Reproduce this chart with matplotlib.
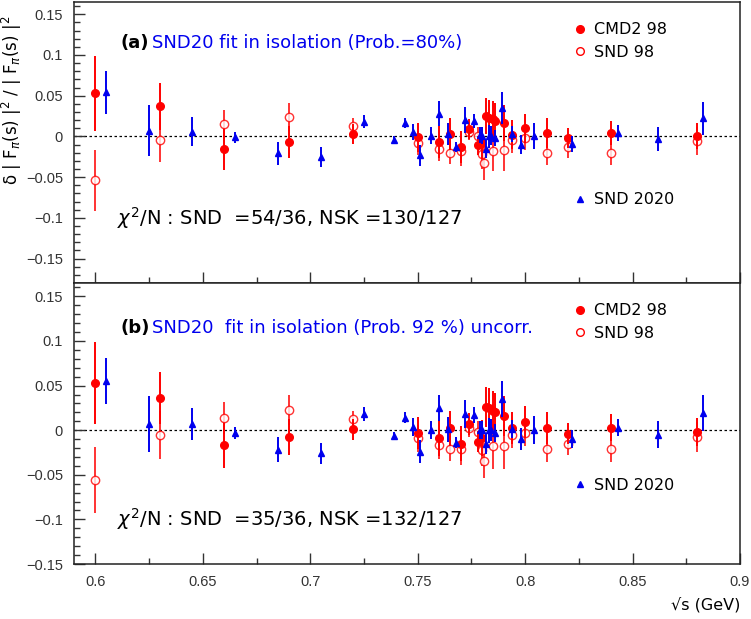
import numpy as np
import matplotlib
matplotlib.use("Agg")
import matplotlib.pyplot as plt
from matplotlib.lines import Line2D
from matplotlib.ticker import MultipleLocator

plt.rcParams["font.family"] = ["DejaVu Sans"]
plt.rcParams["mathtext.fontset"] = "dejavusans"

# CMD2 98 (filled red)
cmd_x = [0.6, 0.63, 0.66, 0.69, 0.72, 0.75, 0.76, 0.765, 0.77, 0.774, 0.778, 0.780,
         0.7817, 0.783, 0.785, 0.786, 0.79, 0.794, 0.80, 0.81, 0.82, 0.84, 0.88]
cmd_err = [0.046, 0.029, 0.025, 0.02, 0.012, 0.018, 0.02, 0.02, 0.02, 0.012, 0.012, 0.02,
           0.022, 0.022, 0.022, 0.022, 0.022, 0.018, 0.018, 0.018, 0.012, 0.015, 0.016]
cmd_a = [0.053, 0.037, -0.016, -0.007, 0.003, -0.001, -0.007, 0.003, -0.013, 0.009, -0.011, -0.008,
         0.025, 0.023, 0.021, 0.019, 0.016, 0.002, 0.010, 0.004, -0.002, 0.004, 0.001]
cmd_b = [0.053, 0.036, -0.017, -0.008, 0.001, -0.003, -0.009, 0.002, -0.015, 0.007, -0.013, -0.009,
         0.026, 0.025, 0.022, 0.020, 0.016, 0.002, 0.009, 0.002, -0.004, 0.003, -0.002]

# SND 98 (open red)
snd98_x = [0.6, 0.63, 0.66, 0.69, 0.72, 0.75, 0.76, 0.765, 0.77, 0.774, 0.778, 0.78,
           0.781, 0.785, 0.79, 0.794, 0.80, 0.81, 0.82, 0.84, 0.88]
snd98_err = [0.037, 0.027, 0.018, 0.017, 0.01, 0.015, 0.015, 0.014, 0.018, 0.01, 0.012, 0.018,
             0.02, 0.025, 0.025, 0.015, 0.015, 0.015, 0.013, 0.015, 0.017]
snd98_a = [-0.054, -0.004, 0.015, 0.024, 0.013, -0.008, -0.015, -0.020, -0.018, 0.005, 0.0, -0.022,
           -0.033, -0.018, -0.017, -0.005, -0.002, -0.020, -0.013, -0.020, -0.006]
snd98_b = [-0.056, -0.005, 0.014, 0.023, 0.012, -0.009, -0.017, -0.021, -0.021, 0.002, -0.002, -0.022,
           -0.034, -0.018, -0.018, -0.005, -0.003, -0.021, -0.015, -0.021, -0.008]

# SND 2020 (blue triangles)
snd20_x = [0.605, 0.625, 0.645, 0.665, 0.685, 0.705, 0.725, 0.739, 0.744, 0.748, 0.751, 0.756,
           0.760, 0.764, 0.768, 0.772, 0.776, 0.779, 0.780, 0.782, 0.783, 0.784, 0.786, 0.789,
           0.794, 0.798, 0.804, 0.822, 0.843, 0.862, 0.883]
snd20_err = [0.026, 0.031, 0.018, 0.007, 0.014, 0.012, 0.008, 0.004, 0.006, 0.01, 0.013, 0.01,
             0.015, 0.014, 0.006, 0.016, 0.009, 0.01, 0.01, 0.012, 0.014, 0.012, 0.01, 0.02,
             0.01, 0.012, 0.016, 0.01, 0.01, 0.015, 0.02]
snd20_a = [0.054, 0.007, 0.006, -0.001, -0.021, -0.025, 0.018, -0.004, 0.016, 0.005, -0.023, 0.001,
           0.028, 0.003, -0.013, 0.020, 0.019, 0.002, 0.001, -0.015, 0.0, 0.001, -0.002, 0.035,
           0.003, -0.010, 0.001, -0.009, 0.004, -0.003, 0.022]
snd20_b = [0.055, 0.007, 0.007, -0.003, -0.022, -0.026, 0.018, -0.006, 0.014, 0.004, -0.024, 0.0,
           0.025, 0.001, -0.014, 0.018, 0.017, 0.0, 0.0, -0.015, 0.0, 0.0, -0.003, 0.035,
           0.001, -0.010, 0.0, -0.010, 0.003, -0.005, 0.019]

panels = [
    dict(tag="(a)", title="SND20 fit in isolation (Prob.=80%)",
         chi=r"$\chi^2$/N : SND  =54/36, NSK =130/127",
         cmd=cmd_a, snd98=snd98_a, snd20=snd20_a, ylim=(-0.18, 0.165)),
    dict(tag="(b)", title="SND20  fit in isolation (Prob. 92 %) uncorr.",
         chi=r"$\chi^2$/N : SND  =35/36, NSK =132/127",
         cmd=cmd_b, snd98=snd98_b, snd20=snd20_b, ylim=(-0.15, 0.165)),
]

W, H = 751, 619
fig = plt.figure(figsize=(W / 100, H / 100), dpi=100)
left, right = 74, 740
tops = [2, 283]
hgt = 281

red = "#ff0000"
blue = "#0000ee"

for i, p in enumerate(panels):
    ax = fig.add_axes([left / W, 1 - (tops[i] + hgt) / H, (right - left) / W, hgt / H])
    ax.set_xlim(0.59, 0.9)
    ax.set_ylim(*p["ylim"])
    ax.axhline(0, color="black", lw=0.9, ls=(0, (2, 2)), zorder=1)

    ax.errorbar(cmd_x, p["cmd"], yerr=cmd_err, fmt="o", color=red, ms=5.5,
                elinewidth=1.4, capsize=0, zorder=3)
    ax.errorbar(snd98_x, p["snd98"], yerr=snd98_err, fmt="o", color=red, mfc="white",
                mec=red, ms=6, mew=1.0, elinewidth=1.4, capsize=0, alpha=0.8, zorder=2)
    ax.errorbar(snd20_x, p["snd20"], yerr=snd20_err, fmt="^", color=blue, ms=5,
                elinewidth=1.4, capsize=0, zorder=4)

    ax.xaxis.set_major_locator(MultipleLocator(0.05))
    ax.xaxis.set_minor_locator(MultipleLocator(0.025))
    ax.yaxis.set_major_locator(MultipleLocator(0.05))
    ax.yaxis.set_minor_locator(MultipleLocator(0.01))
    ax.tick_params(which="both", direction="in", top=False, right=False, labelsize=10.5,
                   colors="#333333", width=1.0)
    ax.tick_params(which="major", length=8, pad=8)
    ax.tick_params(which="minor", length=4)
    ax.set_yticks(np.round(np.arange(-0.15, 0.151, 0.05), 2))
    ax.set_yticklabels(["\u22120.15", "\u22120.1", "\u22120.05", "0", "0.05", "0.1", "0.15"])
    if i == 0:
        ax.tick_params(labelbottom=False)
    else:
        ax.set_xticks([0.6, 0.65, 0.7, 0.75, 0.8, 0.85, 0.9])
        ax.set_xticklabels(["0.6", "0.65", "0.7", "0.75", "0.8", "0.85", "0.9"])
    for lab in ax.get_xticklabels() + ax.get_yticklabels():
        lab.set_fontfamily("Liberation Sans")
    for s in ax.spines.values():
        s.set_linewidth(1.1)
        s.set_color("#222222")

    ax.text(0.6115, 0.115, p["tag"], fontsize=13, fontweight="bold", va="center", ha="left")
    ax.text(0.6265, 0.115, p["title"], fontsize=13, color=blue, va="center", ha="left")
    ax.text(0.6098, -0.1, p["chi"], fontsize=14, va="center", ha="left")

    h1 = [Line2D([], [], ls="none", marker="o", color=red, ms=5.5),
          Line2D([], [], ls="none", marker="o", mfc="white", mec=red, ms=5.5)]
    leg1 = ax.legend(h1, ["CMD2 98", "SND 98"], loc="upper left", frameon=False,
                     bbox_to_anchor=(0.743, 0.95), fontsize=11.5, handlelength=0.6,
                     handletextpad=0.6, labelspacing=0.45, borderaxespad=0)
    ax.add_artist(leg1)
    h2 = [Line2D([], [], ls="none", marker="^", color=blue, ms=5)]
    ax.legend(h2, ["SND 2020"], loc="upper left", frameon=False,
              bbox_to_anchor=(0.743, 0.345 if i == 0 else 0.33), fontsize=11.5,
              handlelength=0.6, handletextpad=0.6, borderaxespad=0)

fig.text(12 / W, 1 - 100 / H, "\u03b4 | F$_\\pi$(s) |$^2$ / | F$_\\pi$(s) |$^2$",
         rotation=90, ha="center", va="center", fontsize=12)
fig.text(740 / W, 1 - 605 / H, "\u221as (GeV)", ha="right", va="center", fontsize=11.5)

fig.savefig("out.png", dpi=100)
